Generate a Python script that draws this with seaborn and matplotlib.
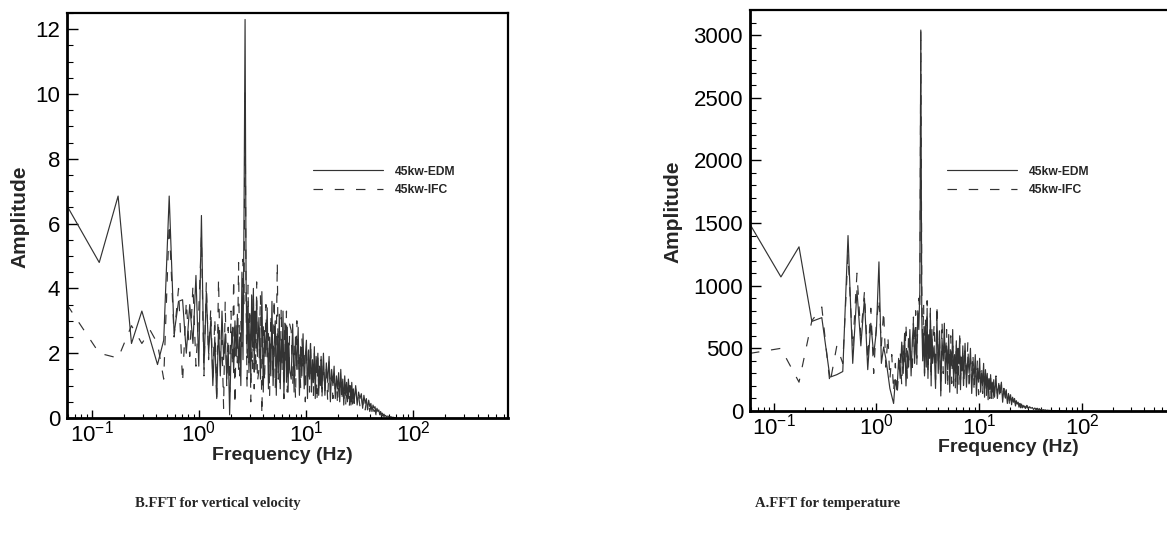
import numpy as np
import pandas as pd
import matplotlib
matplotlib.use("Agg")
import matplotlib.pyplot as plt
import seaborn as sns
from matplotlib.ticker import LogLocator, MultipleLocator, LogFormatterSciNotation, NullFormatter

# ---------------- data ----------------
DF = 0.0587  # FFT bin width (Hz)
bins = (list(range(1, 61)) + list(range(62, 121, 2)) + list(range(124, 241, 4))
        + list(range(248, 481, 8)) + list(range(496, 961, 16)) + list(range(992, 1201, 32)))
freq = np.array(bins) * DF

series_names = ["45kw-EDM", "45kw-IFC"]
captions = ["B.FFT for vertical velocity", "A.FFT for temperature"]

vel_edm = [6.55, 4.8, 6.85, 2.3, 3.3, 2.4, 1.65, 2.4, 6.85, 2.6,
           3.6, 3.65, 2.0, 3.5, 2.3, 4.4, 1.6, 6.25, 1.5, 3.9,
           2.0, 3.0, 1.0, 2.5, 0.6, 2.8, 1.3, 3.3, 1.8, 2.6,
           1.2, 2.2, 0.1, 2.0, 2.8, 1.4, 3.0, 1.9, 3.2, 1.5,
           2.5, 1.0, 4.5, 1.8, 6.4, 12.3, 4.3, 2.0, 3.6, 1.4,
           2.9, 1.2, 3.8, 2.2, 4.0, 1.5, 3.3, 2.6, 3.7, 1.9,
           3.1, 1.2, 3.9, 0.8, 2.7, 1.9, 3.4, 0.9, 2.5, 1.3, 3.6, 1.0, 2.2, 3.0, 0.7,
           2.6, 1.4, 3.2, 0.9, 2.4, 1.7, 3.3, 0.6, 2.0, 2.9, 1.1, 2.8, 0.8, 2.3, 1.5,
           1.2, 2.9, 0.8, 2.5, 1.5, 2.8, 0.7, 2.2, 1.3, 2.6, 0.9, 1.9, 2.4, 0.6, 2.1,
           1.2, 2.3, 0.8, 1.8, 1.1, 2.2, 0.6, 1.9, 1.4, 2.0, 0.7, 1.6, 1.0, 1.9, 0.8,
           2.0, 0.7, 1.7, 1.1, 1.9, 0.5, 1.5, 1.0, 1.6, 0.6, 1.3, 0.9, 1.4, 0.5, 1.5,
           0.8, 1.2, 0.4, 1.3, 0.7, 1.1, 0.5, 1.2, 0.8, 1.0, 0.4, 1.1, 0.6, 0.9, 0.5,
           1.0, 0.4, 0.8, 0.6, 0.75, 0.3, 0.7, 0.45, 0.6, 0.25, 0.55, 0.35, 0.45, 0.2, 0.4,
           0.3, 0.35, 0.15, 0.3, 0.2, 0.25, 0.1, 0.2, 0.12, 0.15, 0.07, 0.12, 0.06, 0.08, 0.04,
           0.06, 0.03, 0.04, 0.02, 0.02, 0.01, 0.01]

vel_ifc = [3.5, 2.0, 1.85, 2.85, 2.3, 2.7, 2.3, 1.2, 6.0, 2.5,
           4.0, 1.1, 3.6, 1.9, 4.1, 1.6, 3.3, 5.6, 1.3, 4.2,
           1.8, 3.4, 1.2, 3.1, 0.5, 4.3, 1.5, 2.4, 0.3, 3.6,
           1.0, 2.8, 0.8, 3.3, 1.6, 4.3, 0.4, 2.9, 1.7, 4.8,
           1.3, 3.0, 2.2, 4.9, 3.5, 10.1, 3.6, 0.9, 4.1, 1.7,
           3.4, 0.5, 2.6, 1.5, 3.9, 0.9, 3.0, 1.4, 4.2, 1.1,
           1.5, 3.8, 0.1, 2.9, 1.1, 3.5, 1.8, 2.6, 0.7, 3.2, 2.0, 1.2, 3.7, 0.9, 2.4,
           4.8, 1.2, 2.8, 0.9, 3.4, 1.5, 2.3, 0.6, 3.0, 1.7, 3.3, 0.8, 2.5, 1.3, 2.9,
           2.7, 1.0, 2.3, 0.6, 3.0, 1.4, 2.1, 0.9, 2.5, 1.6, 2.0, 0.5, 2.2, 1.3, 1.7,
           0.8, 2.4, 1.0, 1.6, 0.7, 2.0, 1.2, 1.7, 0.5, 1.9, 0.9, 1.5, 1.1, 1.8, 0.6,
           1.7, 0.8, 1.5, 0.5, 1.8, 1.0, 1.3, 0.6, 1.4, 0.9, 1.1, 0.4, 1.2, 0.7, 1.3,
           0.5, 1.0, 0.6, 1.1, 0.4, 0.9, 0.6, 1.0, 0.3, 0.8, 0.5, 0.9, 0.4, 0.7, 0.45,
           0.9, 0.5, 0.7, 0.35, 0.65, 0.4, 0.55, 0.25, 0.5, 0.3, 0.4, 0.2, 0.35, 0.15, 0.3,
           0.2, 0.25, 0.1, 0.2, 0.12, 0.16, 0.08, 0.14, 0.06, 0.1, 0.05, 0.08, 0.03, 0.05, 0.02,
           0.04, 0.02, 0.03, 0.01, 0.01, 0.0, 0.0]

temp_edm = [1490, 1070, 1310, 715, 745, 270, 290, 315, 1400, 380,
            960, 520, 900, 330, 700, 450, 640, 1190, 380, 510,
            420, 300, 180, 120, 60, 250, 170, 420, 260, 550,
            300, 620, 200, 480, 350, 650, 280, 560, 700, 380,
            600, 420, 800, 650, 960, 3040, 750, 400, 620, 280,
            700, 350, 820, 260, 600, 420, 780, 200, 650, 380,
            520, 180, 760, 300, 640, 120, 580, 400, 700, 220, 520, 330, 610, 150, 480,
            360, 650, 200, 450, 300, 560, 140, 500, 380, 600, 170, 430, 320, 520, 210,
            540, 190, 430, 300, 500, 140, 380, 260, 450, 120, 340, 230, 420, 150, 300,
            200, 380, 110, 330, 180, 300, 90, 260, 170, 290, 100, 230, 150, 250, 110,
            260, 100, 220, 150, 230, 70, 180, 110, 170, 60, 140, 80, 130, 50, 110,
            70, 100, 40, 80, 55, 70, 30, 60, 40, 55, 25, 45, 30, 40, 20,
            40, 18, 34, 22, 28, 12, 24, 15, 20, 8, 16, 10, 13, 6, 11,
            7, 9, 4, 7, 5, 6, 3, 5, 2, 4, 2, 3, 1, 2, 1,
            1, 1, 0, 1, 0, 0, 0]

temp_ifc = [460, 500, 230, 720, 830, 220, 520, 380, 1250, 500,
            1100, 600, 950, 400, 820, 300, 700, 900, 520, 800,
            350, 600, 250, 450, 150, 380, 120, 300, 480, 200,
            550, 350, 700, 250, 620, 400, 500, 300, 750, 450,
            800, 350, 700, 900, 800, 3040, 1000, 500, 850, 300,
            750, 450, 880, 300, 650, 500, 820, 250, 600, 420,
            700, 250, 850, 380, 600, 150, 720, 300, 560, 420, 650, 180, 500, 350, 600,
            220, 520, 280, 480, 160, 550, 300, 470, 200, 580, 250, 420, 330, 500, 180,
            480, 250, 550, 170, 420, 300, 460, 150, 360, 250, 420, 130, 320, 220, 360,
            140, 300, 170, 330, 120, 280, 160, 250, 100, 260, 140, 220, 90, 230, 120,
            280, 140, 240, 90, 210, 130, 180, 70, 160, 100, 140, 50, 120, 70, 100,
            45, 90, 55, 80, 35, 70, 40, 60, 25, 50, 30, 45, 20, 40, 22,
            45, 25, 38, 16, 32, 18, 26, 10, 22, 12, 17, 7, 14, 8, 11,
            5, 9, 4, 7, 3, 6, 3, 5, 2, 4, 2, 3, 1, 2, 1,
            1, 1, 0, 0, 0, 0, 0]

for s in (vel_edm, vel_ifc, temp_edm, temp_ifc):
    assert len(s) == len(freq), len(s)

# ---------------- style ----------------
sns.set_theme(style="white")
plt.rcParams["font.family"] = ["Liberation Sans", "DejaVu Sans"]
plt.rcParams["mathtext.fontset"] = "custom"
plt.rcParams["mathtext.rm"] = "Liberation Sans"
plt.rcParams["mathtext.it"] = "Liberation Sans:italic"
plt.rcParams["mathtext.bf"] = "Liberation Sans:bold"
plt.rcParams["axes.unicode_minus"] = False

fig = plt.figure(figsize=(11.67, 5.45), dpi=100)
W, H = 1167, 545

def px_axes(x0, x1, ytop, ybot):
    return fig.add_axes([x0 / W, 1 - ybot / H, (x1 - x0) / W, (ybot - ytop) / H])

ax_v = px_axes(67, 508, 13, 418)
ax_t = px_axes(750, 1173, 10, 411)

line_color = "#333333"
dash_style = (0, (8, 10))

panels = [
    (ax_v, vel_edm, vel_ifc, (0, 12.5), 2, 0.5, (282, 456), (20, 217), (218, 503), (313, 181)),
    (ax_t, temp_edm, temp_ifc, (0, 3200), 500, 100, (1008, 448), (673, 212), (828, 503), (947, 181)),
]

for ax, edm, ifc, ylim, ymaj, ymin, xlab, ylab, cap, leg in panels:
    df = pd.DataFrame({"Frequency": freq, "EDM": edm, "IFC": ifc})
    sns.lineplot(data=df, x="Frequency", y="EDM", ax=ax, color=line_color, lw=0.85,
                 estimator=None, errorbar=None, label=series_names[0])
    sns.lineplot(data=df, x="Frequency", y="IFC", ax=ax, color=line_color, lw=0.85,
                 estimator=None, errorbar=None, linestyle=dash_style, label=series_names[1])
    ax.set_xscale("log")
    ax.set_xlim(DF, 770)
    ax.set_ylim(*ylim)
    ax.xaxis.set_major_locator(LogLocator(base=10, numticks=20))
    ax.xaxis.set_minor_locator(LogLocator(base=10, subs=np.arange(2, 10), numticks=20))
    ax.xaxis.set_major_formatter(LogFormatterSciNotation())
    ax.xaxis.set_minor_formatter(NullFormatter())
    ax.yaxis.set_major_locator(MultipleLocator(ymaj))
    ax.yaxis.set_minor_locator(MultipleLocator(ymin))
    ax.tick_params(axis="both", which="both", direction="in", colors="black",
                   labelsize=16, top=False, right=False, bottom=True, left=True)
    ax.tick_params(axis="y", which="major", length=8, width=1.0, pad=5)
    ax.tick_params(axis="y", which="minor", length=4.5, width=0.8)
    ax.tick_params(axis="x", which="major", length=6, width=1.0, pad=2)
    ax.tick_params(axis="x", which="minor", length=3, width=0.8)
    for name, sp in ax.spines.items():
        sp.set_visible(True)
        sp.set_color("black")
        sp.set_linewidth(2.0 if name in ("left", "bottom") else 1.6)
    ax.grid(False)

    # axis labels
    ax.set_xlabel("Frequency (Hz)", fontsize=14, fontweight="bold")
    ax.set_ylabel("Amplitude", fontsize=15, fontweight="bold")
    bb = ax.get_position()
    ax.xaxis.set_label_coords((xlab[0] / W - bb.x0) / bb.width,
                              ((1 - xlab[1] / H) - bb.y0) / bb.height)
    ax.yaxis.set_label_coords((ylab[0] / W - bb.x0) / bb.width,
                              ((1 - ylab[1] / H) - bb.y0) / bb.height)
    ax.xaxis.label.set_va("center")
    ax.yaxis.label.set_va("center")

    # legend
    handles, labels = ax.get_legend_handles_labels()
    ax.legend(handles, labels, loc="center left",
              bbox_to_anchor=(leg[0] / W, 1 - leg[1] / H), bbox_transform=fig.transFigure,
              frameon=False, prop={"family": "Liberation Sans", "weight": "bold", "size": 8.7},
              handlelength=5.8, handletextpad=1.0, labelspacing=0.55,
              borderpad=0, borderaxespad=0)

for (ax, edm, ifc, ylim, ymaj, ymin, xlab, ylab, cap, leg), text in zip(panels, captions):
    fig.text(cap[0] / W, 1 - cap[1] / H, text, ha="center", va="center",
             fontsize=10.5, fontweight="bold", family=["Liberation Serif", "DejaVu Serif"])

fig.savefig("out.png", dpi=100)
